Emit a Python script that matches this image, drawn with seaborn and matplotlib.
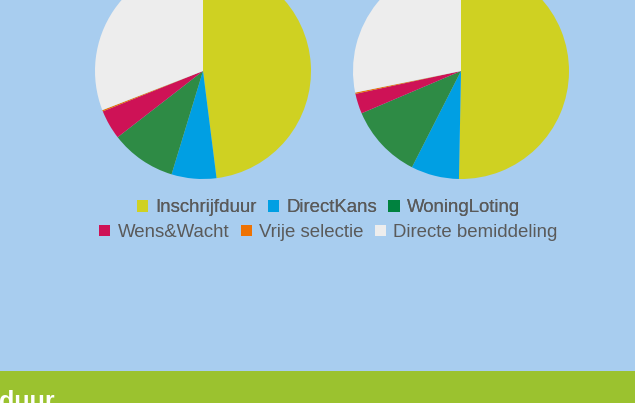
import matplotlib
matplotlib.use('Agg')
import matplotlib.pyplot as plt
from matplotlib.patches import Patch, Rectangle
import seaborn as sns

# 데이터 (퍼센트, 그림에서 읽은 값)
labels = ['Inschrijfduur', 'DirectKans', 'WoningLoting',
          'Wens&Wacht', 'Vrije selectie', 'Directe bemiddeling']
left_values = [48.0, 6.7, 9.8, 4.4, 0.2, 30.9]
right_values = [50.3, 7.2, 11.1, 3.0, 0.2, 28.2]
colors = ['#CFD122', '#009FE3', '#2E8B45', '#CE1256', '#EE7203', '#EDEDED']
legend_colors = ['#CFD122', '#009FE3', '#00823F', '#CE1256', '#EE7203', '#EDEDED']

bg = '#A8CDEF'
band = '#9BC22F'

sns.set_style('white')
plt.rcParams['font.family'] = ['Liberation Sans', 'DejaVu Sans']

W, H = 635, 403
fig = plt.figure(figsize=(W / 100, H / 100), dpi=100, facecolor=bg)

palette = sns.color_palette(colors)


def pie_axes(cx, cy, r):
    # 픽셀 좌표(위에서부터) -> figure 비율
    return fig.add_axes([(cx - r) / W, (H - cy - r) / H, 2 * r / W, 2 * r / H])


for cx, vals in [(203, left_values), (461, right_values)]:
    ax = pie_axes(cx, 71, 108)
    ax.pie(vals, colors=palette, startangle=90, counterclock=False,
           wedgeprops=dict(linewidth=0))
    ax.set_xlim(-1, 1)
    ax.set_ylim(-1, 1)
    ax.set_aspect('equal')
    ax.axis('off')

# 범례 두 줄 (각 줄 가운데 정렬)
handles = [Patch(facecolor=c, edgecolor='none') for c in legend_colors]
common = dict(loc='center', frameon=False, ncol=3, fontsize=13.4,
              handlelength=0.6, handleheight=0.6, handletextpad=0.4,
              columnspacing=0.6, borderpad=0, borderaxespad=0,
              labelcolor='#5A5A5A')
leg1 = fig.legend(handles[:3], labels[:3],
                  bbox_to_anchor=(328.5 / W, 1 - 208 / H), **common)
fig.legend(handles[3:], labels[3:],
           bbox_to_anchor=(328.5 / W, 1 - 232.5 / H), **common)
fig.add_artist(leg1)

# 아래 초록 띠 + 제목 일부 (원본에서도 잘려 있음)
fig.add_artist(Rectangle((0, 0), 1, (H - 371) / H, transform=fig.transFigure,
                         facecolor=band, edgecolor='none'))
fig.text(-1 / W, (H - 409) / H, 'duur', color='white', fontsize=18,
         fontweight='bold', ha='left', va='baseline')

fig.savefig('out.png', dpi=100, facecolor=bg)
